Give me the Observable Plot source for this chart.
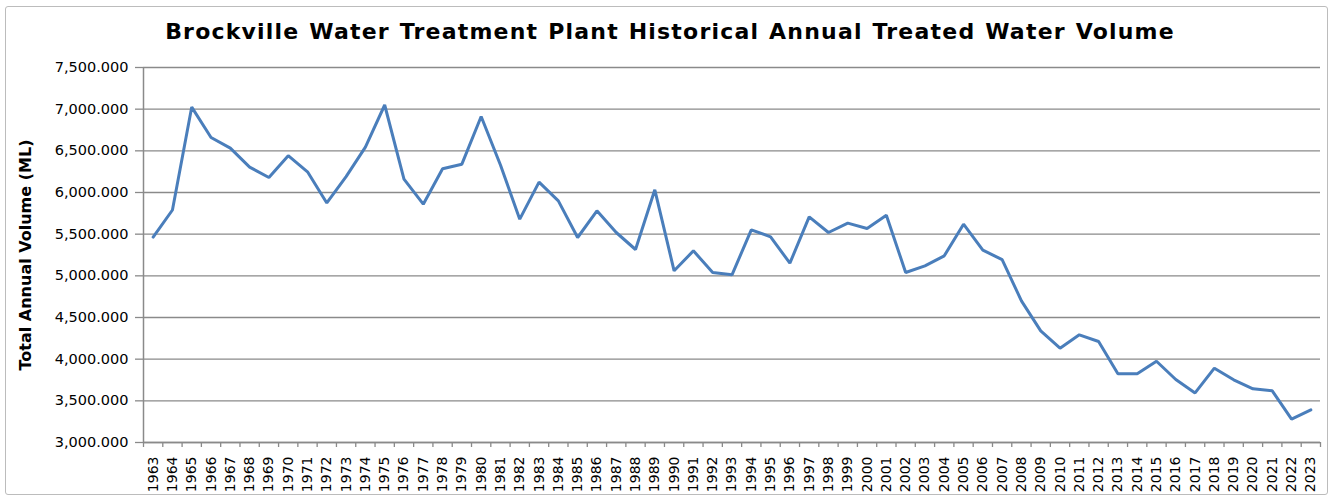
<!DOCTYPE html>
<html>
<head>
<meta charset="utf-8">
<script src="https://cdn.jsdelivr.net/npm/d3@7"></script>
<script src="https://cdn.jsdelivr.net/npm/@observablehq/plot@0.6"></script>
<style>
  html, body { margin: 0; padding: 0; background: #fff; }
  #wrap { position: relative; width: 1332px; height: 498px; overflow: hidden; }
  #frame { position: absolute; left: 5px; top: 6px; width: 1323px; height: 489px; border: 1.5px solid #bcbcbc; border-radius: 3px; box-sizing: border-box; }
  #title { position: absolute; left: 4px; width: 1332px; top: 19px; text-align: center; font-family: "DejaVu Sans", Verdana, sans-serif; font-weight: bold; font-size: 22px; letter-spacing: 1.2px; word-spacing: 1px; color: #000; white-space: nowrap; }
  #chart { position: absolute; left: 0; top: 0; }
</style>
</head>
<body>
<div id="wrap">
  <div id="frame"></div>
  <div id="chart"></div>
  <div id="title">Brockville Water Treatment Plant Historical Annual Treated Water Volume</div>
</div>
<script>
const years = d3.range(1963, 2024);
const volumes = [
  5465, 5790, 7025, 6660, 6533, 6305, 6180, 6442, 6248, 5875,
  6190, 6545, 7050, 6160, 5860, 6285, 6340, 6912, 6330, 5680,
  6125, 5900, 5460, 5780, 5520, 5316, 6032, 5060, 5300, 5040,
  5012, 5552, 5468, 5152, 5708, 5520, 5632, 5568, 5728, 5040,
  5120, 5240, 5620, 5308, 5195, 4700, 4340, 4132, 4292, 4212,
  3825, 3825, 3975, 3756, 3595, 3892, 3752, 3644, 3620, 3280,
  3392
];
const yTicks = d3.range(3000, 7501, 500);
const xBoundaries = d3.range(1962.5, 2024, 1);
const data = years.map((y, i) => ({year: y, volume: volumes[i]}));

const chart = Plot.plot({
  width: 1332,
  height: 498,
  marginLeft: 143,
  marginRight: 12,
  marginTop: 67,
  marginBottom: 56,
  style: {fontFamily: "'DejaVu Sans', Verdana, sans-serif", background: "transparent", color: "#000"},
  x: {domain: [1962.5, 2023.5]},
  y: {domain: [3000, 7500]},
  marks: [
    Plot.gridY(yTicks, {stroke: "#8a8a8a", strokeOpacity: 1, strokeWidth: 1.3}),
    Plot.axisY({ticks: yTicks, tickFormat: d3.format(",.3f"), tickSize: 8, tickPadding: 7, stroke: "#8a8a8a", strokeWidth: 1.3, fontSize: 14.5, label: null}),
    Plot.axisX({ticks: xBoundaries, tickFormat: () => "", tickSize: 5, stroke: "#8a8a8a", strokeWidth: 1.3, label: null}),
    Plot.axisX({ticks: years, tickFormat: d => String(d), tickSize: 0, tickPadding: 14, tickRotate: -90, fontSize: 14, label: null}),
    Plot.ruleX([1962.5], {stroke: "#8a8a8a", strokeWidth: 1.5}),
    Plot.ruleY([3000], {stroke: "#8a8a8a", strokeWidth: 1.5}),
    Plot.text(["Total Annual Volume (ML)"], {frameAnchor: "left", dx: -118, rotate: -90, textAnchor: "middle", fontWeight: "bold", fontSize: 16, fill: "#000"}),
    Plot.lineY(data, {x: "year", y: "volume", stroke: "#4a7ebb", strokeWidth: 3, strokeLinejoin: "miter"})
  ]
});
document.getElementById("chart").appendChild(chart);
</script>
</body>
</html>
